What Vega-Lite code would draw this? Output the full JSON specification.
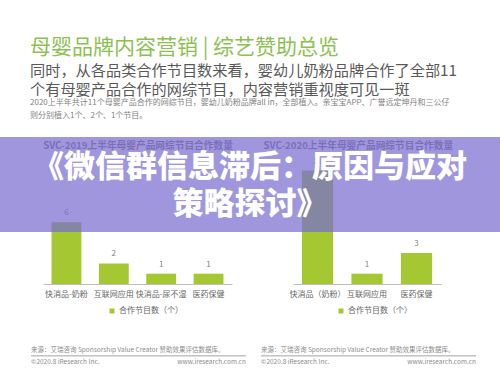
{
  "$schema": "https://vega.github.io/schema/vega-lite/v6.json",
  "padding": {"left": 0, "top": 37, "right": 0, "bottom": 0},
  "background": "white",
  "config": {
    "font": "Noto Sans CJK SC",
    "view": {"stroke": null}
  },
  "datasets": {
    "svc2019": [
      {"category": "快消品-奶粉", "count": 6, "series": "合作节目数（个）"},
      {"category": "互联网应用", "count": 2, "series": "合作节目数（个）"},
      {"category": "快消品-尿不湿", "count": 1, "series": "合作节目数（个）"},
      {"category": "医药保健", "count": 1, "series": "合作节目数（个）"}
    ],
    "svc2020": [
      {"category": "快消品（奶粉）", "count": 11, "series": "合作节目数（个）"},
      {"category": "互联网应用", "count": 1, "series": "合作节目数（个）"},
      {"category": "医药保健", "count": 3, "series": "合作节目数（个）"}
    ],
    "banner": [
      {"line": "1", "text": "《微信群信息滞后：原因与应对"},
      {"line": "2", "text": "策略探讨》"}
    ],
    "footer": [
      {"text": "来源：艾瑞咨询 Sponsorship Value Creator 赞助效果评估数据库。", "side": "left", "row": "top"},
      {"text": "©2020.8 iResearch Inc.", "side": "left", "row": "bottom"},
      {"text": "www.iresearch.com.cn", "side": "right", "row": "bottom"}
    ]
  },
  "title": {
    "text": "母婴品牌内容营销 | 综艺赞助总览",
    "subtitle": ["同时，从各品类合作节目数来看，婴幼儿奶粉品牌合作了全部11", "个有母婴产品合作的网综节目，内容营销重视度可见一斑"],
    "anchor": "start",
    "dx": 30,
    "fontSize": 21,
    "fontWeight": "normal",
    "color": "#8cc152",
    "subtitleFontSize": 15.2,
    "subtitleColor": "#595959",
    "subtitleLineHeight": 19,
    "subtitlePadding": 6,
    "offset": 0
  },
  "spacing": 32,
  "vconcat": [
    {
      "width": 500,
      "height": 147,
      "title": {
        "text": ["2020上半年共计11个母婴产品合作的网综节目，婴幼儿奶粉品牌all in，全部植入。亲宝宝APP、广誉远定坤丹和三公仔", "则分别植入1个、2个、1个节目。"],
        "anchor": "start",
        "dx": 30,
        "fontSize": 8,
        "lineHeight": 13.5,
        "color": "#7f7f7f",
        "fontWeight": "normal",
        "offset": 17
      },
      "layer": [
        {
          "data": {"name": "svc2019"},
          "encoding": {
            "x": {"field": "category", "type": "nominal", "sort": null,
              "scale": {"range": [43, 232], "paddingInner": 0.37, "paddingOuter": 0.18},
              "axis": {"orient": "bottom", "title": "SVC-2019上半年母婴产品网综节目合作数量", "titleX": 137.5, "titleY": -139, "titleAlign": "center", "titleBaseline": "middle", "titleFontSize": 9.7, "titleFontWeight": "bold", "titleColor": "#7f7f7f",
                "labelAngle": 0, "ticks": false, "domainColor": "#bfbfbf", "labelFontSize": 8, "labelColor": "#666666", "labelPadding": 6, "grid": false}},
            "y": {"field": "count", "type": "quantitative", "scale": {"domain": [0, 14.26]}, "axis": null}
          },
          "layer": [
            {
              "mark": {"type": "bar"},
              "encoding": {
                "color": {"field": "series", "type": "nominal", "scale": {"range": ["#a5c832"]},
                  "legend": {"title": null, "orient": "none", "legendX": 108, "legendY": 170, "direction": "horizontal", "symbolType": "square", "symbolSize": 25, "labelFontSize": 8, "labelColor": "#666666", "labelOffset": 3}}
              }
            },
            {
              "mark": {"type": "text", "baseline": "bottom", "dy": -5, "fontSize": 8, "color": "#7f7f7f"},
              "encoding": {"text": {"field": "count", "type": "quantitative"}}
            }
          ]
        },
        {
          "data": {"name": "svc2020"},
          "encoding": {
            "x": {"field": "category", "type": "nominal", "sort": null,
              "scale": {"range": [293, 441], "paddingInner": 0.37, "paddingOuter": 0.18},
              "axis": {"orient": "bottom", "title": "SVC-2020上半年母婴产品网综节目合作数量", "titleX": 263, "titleY": -139, "titleAlign": "left", "titleBaseline": "middle", "titleFontSize": 9.7, "titleFontWeight": "bold", "titleColor": "#7f7f7f",
                "labelAngle": 0, "ticks": false, "domainColor": "#bfbfbf", "labelFontSize": 8, "labelColor": "#666666", "labelPadding": 6, "grid": false}},
            "y": {"field": "count", "type": "quantitative", "scale": {"domain": [0, 14.26]}, "axis": null}
          },
          "layer": [
            {
              "mark": {"type": "bar"},
              "encoding": {
                "color": {"field": "series", "type": "nominal", "scale": {"range": ["#a5c832"]},
                  "legend": {"title": null, "orient": "none", "legendX": 337, "legendY": 170, "direction": "horizontal", "symbolType": "square", "symbolSize": 25, "labelFontSize": 8, "labelColor": "#666666", "labelOffset": 3}}
              }
            },
            {
              "mark": {"type": "text", "baseline": "bottom", "dy": -5, "fontSize": 8, "color": "#7f7f7f"},
              "encoding": {"text": {"field": "count", "type": "quantitative"}}
            }
          ]
        },
        {
          "data": {"values": [{"band": "banner"}]},
          "mark": {"type": "rect", "color": "#7869d0", "opacity": 0.7},
          "encoding": {
            "y": {"field": "band", "type": "nominal", "scale": {"type": "band", "domain": ["banner"], "range": [0, 95], "paddingInner": 0, "paddingOuter": 0}, "axis": null}
          }
        },
        {
          "data": {"name": "banner"},
          "mark": {"type": "text", "fontSize": 31, "fontWeight": 900, "color": "#ffffff", "baseline": "middle"},
          "encoding": {
            "y": {"field": "line", "type": "ordinal", "scale": {"type": "point", "domain": ["1", "2"], "range": [31, 68], "padding": 0}, "axis": null},
            "text": {"field": "text", "type": "nominal"}
          }
        }
      ],
      "resolve": {
        "scale": {"x": "independent", "y": "independent", "color": "independent"},
        "axis": {"x": "independent", "y": "independent"},
        "legend": {"color": "independent"}
      }
    },
    {
      "spacing": 13,
      "hconcat": [
        {
          "width": 17,
          "height": 11.5,
          "data": {"values": [{}]},
          "mark": {"type": "point", "opacity": 0},
          "encoding": {}
        },
        {
          "width": 215,
          "height": 11.5,
          "data": {"name": "footer"},
          "encoding": {
            "y": {"field": "row", "type": "nominal", "scale": {"type": "point", "domain": ["top", "mid", "bottom"], "range": [0, 11.5], "padding": 0}, "axis": null}
          },
          "layer": [
            {"mark": {"type": "rule", "color": "#bfbfbf", "strokeWidth": 0.8}, "encoding": {"y": {"datum": "mid", "type": "nominal"}}},
            {"transform": [{"filter": "datum.side === 'left'"}], "mark": {"type": "text", "align": "left", "baseline": "middle", "fontSize": 6.5, "color": "#8c8c8c"},
              "encoding": {"x": {"field": "side", "type": "nominal", "scale": {"type": "point", "domain": ["left", "right"], "range": [0, 215], "padding": 0}, "axis": null}, "text": {"field": "text", "type": "nominal"}}},
            {"transform": [{"filter": "datum.side === 'right'"}], "mark": {"type": "text", "align": "right", "baseline": "middle", "fontSize": 6.5, "color": "#8c8c8c"},
              "encoding": {"x": {"field": "side", "type": "nominal", "scale": {"type": "point", "domain": ["left", "right"], "range": [0, 215], "padding": 0}, "axis": null}, "text": {"field": "text", "type": "nominal"}}}
          ]
        },
        {
          "width": 215,
          "height": 11.5,
          "data": {"name": "footer"},
          "encoding": {
            "y": {"field": "row", "type": "nominal", "scale": {"type": "point", "domain": ["top", "mid", "bottom"], "range": [0, 11.5], "padding": 0}, "axis": null}
          },
          "layer": [
            {"mark": {"type": "rule", "color": "#bfbfbf", "strokeWidth": 0.8}, "encoding": {"y": {"datum": "mid", "type": "nominal"}}},
            {"transform": [{"filter": "datum.side === 'left'"}], "mark": {"type": "text", "align": "left", "baseline": "middle", "fontSize": 6.5, "color": "#8c8c8c"},
              "encoding": {"x": {"field": "side", "type": "nominal", "scale": {"type": "point", "domain": ["left", "right"], "range": [0, 215], "padding": 0}, "axis": null}, "text": {"field": "text", "type": "nominal"}}},
            {"transform": [{"filter": "datum.side === 'right'"}], "mark": {"type": "text", "align": "right", "baseline": "middle", "fontSize": 6.5, "color": "#8c8c8c"},
              "encoding": {"x": {"field": "side", "type": "nominal", "scale": {"type": "point", "domain": ["left", "right"], "range": [0, 215], "padding": 0}, "axis": null}, "text": {"field": "text", "type": "nominal"}}}
          ]
        }
      ]
    }
  ]
}
